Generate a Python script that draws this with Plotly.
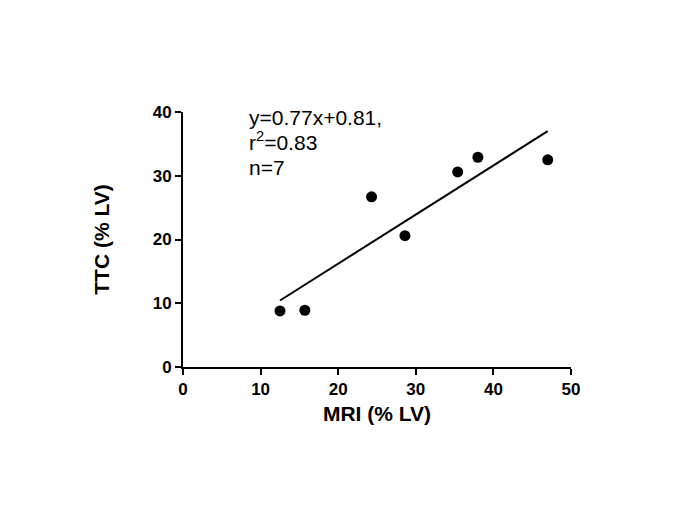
import plotly.graph_objects as go

mri = [12.5, 15.7, 24.3, 28.6, 35.4, 38.0, 47.0]
ttc = [8.8, 8.9, 26.7, 20.6, 30.6, 32.9, 32.5]
slope = 0.77
intercept = 0.81
x_ticks = [0, 10, 20, 30, 40, 50]
y_ticks = [0, 10, 20, 30, 40]
stat_lines = ["y=0.77x+0.81,", "r<sup>2</sup>=0.83", "n=7"]
stat_y = [0.98, 0.887, 0.783]

fit_x = [min(mri), max(mri)]
fit_y = [slope * v + intercept for v in fit_x]

font = "Arial, Liberation Sans, sans-serif"

fig = go.Figure()
fig.add_trace(go.Scatter(x=fit_x, y=fit_y, mode="lines",
                         line=dict(color="black", width=2), showlegend=False))
fig.add_trace(go.Scatter(x=mri, y=ttc, mode="markers",
                         marker=dict(color="black", size=11), showlegend=False))

for txt, yy in zip(stat_lines, stat_y):
    fig.add_annotation(x=0.165, y=yy, xref="paper", yref="paper",
                       xanchor="left", yanchor="middle", align="left", showarrow=False,
                       text=txt, font=dict(family=font, size=21, color="black"))

axis_common = dict(showgrid=False, zeroline=False, showline=True, linecolor="black",
                   linewidth=2, ticks="outside", ticklen=6, tickwidth=2, tickcolor="black",
                   tickfont=dict(family=font, size=17, color="black", weight="bold"))

fig.update_xaxes(range=[0, 50], tickvals=x_ticks,
                 title=dict(text="MRI (% LV)", font=dict(family=font, size=21, color="black", weight="bold"), standoff=8),
                 **axis_common)
fig.update_yaxes(range=[0, 40], tickvals=y_ticks,
                 title=dict(text="TTC (% LV)", font=dict(family=font, size=21, color="black", weight="bold"), standoff=37),
                 **axis_common)

fig.update_layout(width=685, height=517, plot_bgcolor="white", paper_bgcolor="white",
                  margin=dict(l=175, r=122, t=104, b=158, autoexpand=False))

fig.write_html("out.html")
